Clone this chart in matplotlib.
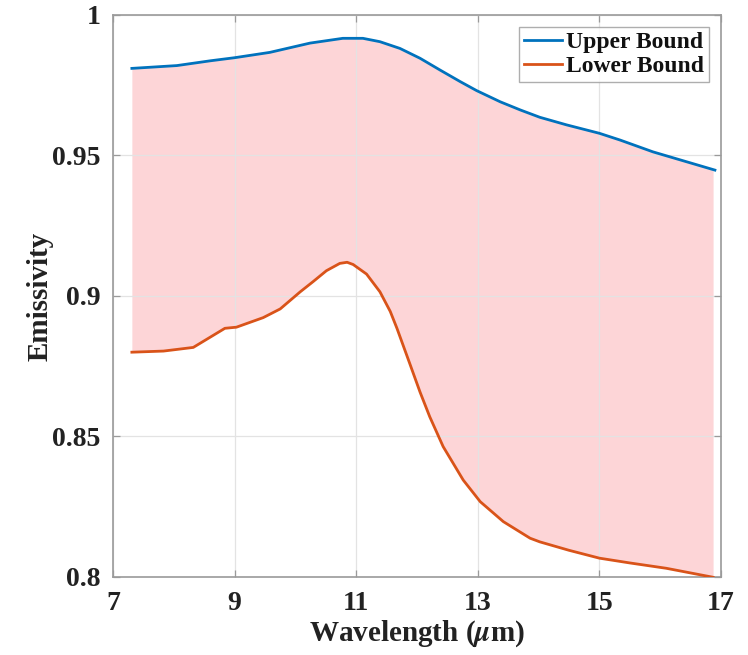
import matplotlib
matplotlib.use("Agg")
import matplotlib.pyplot as plt
import numpy as np

plt.rcParams['font.family'] = ['Liberation Serif', 'DejaVu Serif']
plt.rcParams['font.weight'] = 'bold'
plt.rcParams['mathtext.fontset'] = 'stix'

# Upper bound of emissivity vs wavelength (um)
upper_wl = [7.31, 8.05, 8.6, 9.0, 9.58, 10.24, 10.78, 11.11, 11.39, 11.72, 12.05,
            12.38, 12.71, 12.98, 13.37, 13.7, 14.02, 14.46, 15.0, 15.34, 15.88, 16.9]
upper_em = [0.981, 0.982, 0.9837, 0.9848, 0.9867, 0.990, 0.9917, 0.9917, 0.9905,
            0.9881, 0.9846, 0.9804, 0.9763, 0.9731, 0.9691, 0.9662, 0.9636, 0.9609,
            0.9579, 0.9555, 0.9513, 0.9448]

# Lower bound of emissivity vs wavelength (um)
lower_wl = [7.31, 7.83, 8.32, 8.84, 9.03, 9.47, 9.75, 10.08, 10.29, 10.51, 10.73,
            10.85, 10.95, 11.17, 11.39, 11.56, 11.67, 11.88, 12.05, 12.21, 12.43,
            12.76, 13.04, 13.42, 13.86, 14.02, 14.5, 15.0, 15.5, 16.1, 16.87]
lower_em = [0.880, 0.8804, 0.8817, 0.8885, 0.8889, 0.8923, 0.8954, 0.9015, 0.9051,
            0.909, 0.9116, 0.912, 0.9112, 0.9078, 0.9015, 0.8945, 0.8885, 0.876,
            0.8658, 0.857, 0.8464, 0.8345, 0.8268, 0.8197, 0.8138, 0.8125, 0.8095,
            0.8067, 0.805, 0.8031, 0.7999]

x_ticks = [7, 9, 11, 13, 15, 17]
y_ticks = [0.8, 0.85, 0.9, 0.95, 1.0]
y_tick_labels = ['0.8', '0.85', '0.9', '0.95', '1']

blue = '#0072BD'
orange = '#D95319'

fig = plt.figure(figsize=(7.48, 6.55), dpi=100)
ax = fig.add_axes([0.1511, 0.1191, 0.8128, 0.858])

# shaded band between the two bounds, evaluated on the union of both wavelength grids
x0 = max(upper_wl[0], lower_wl[0])
x1 = min(upper_wl[-1], lower_wl[-1])
wl = np.union1d(upper_wl, lower_wl)
wl = np.unique(np.clip(wl, x0, x1))
up_i = np.interp(wl, upper_wl, upper_em)
lo_i = np.interp(wl, lower_wl, lower_em)
ax.fill_between(wl, lo_i, up_i, color='#FDD5D7', lw=0, zorder=1)

ax.plot(upper_wl, upper_em, color=blue, lw=2.0, label='Upper Bound', zorder=3)
ax.plot(lower_wl, lower_em, color=orange, lw=2.0, label='Lower Bound', zorder=3)

ax.set_xlim(7, 17)
ax.set_ylim(0.8, 1.0)
ax.set_xticks(x_ticks)
ax.set_xticklabels([str(t) for t in x_ticks])
ax.set_yticks(y_ticks)
ax.set_yticklabels(y_tick_labels)

ax.grid(True, color='#E3E3E3', lw=0.9)
for gl in ax.get_xgridlines() + ax.get_ygridlines():
    gl.set_zorder(2)

for s in ax.spines.values():
    s.set_color('#9A9A9A')
    s.set_linewidth(1.2)
ax.tick_params(direction='in', top=True, right=True, length=5, width=0.9,
               color='#9A9A9A', labelsize=20, labelcolor='#222222')
ax.tick_params(axis='x', pad=10)
ax.tick_params(axis='y', pad=9)

ax.set_xlabel('Wavelength ($\\mu$m)', fontsize=21, fontweight='bold',
              color='#222222', labelpad=2)
ax.set_ylabel('Emissivity', fontsize=21, fontweight='bold', color='#222222',
              labelpad=-1)

leg = ax.legend(loc='upper right', fontsize=17, frameon=True, fancybox=False,
                edgecolor='#9A9A9A', handlelength=1.6, handletextpad=0.2,
                borderpad=0.2, labelspacing=0.1, borderaxespad=0.5)
leg.get_frame().set_linewidth(1.0)
for t in leg.get_texts():
    t.set_fontweight('bold')
    t.set_color('#111111')

fig.savefig('out.png', dpi=100)
